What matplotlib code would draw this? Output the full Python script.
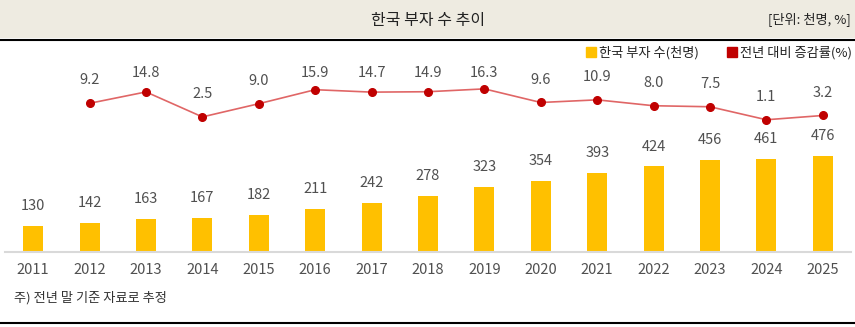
import matplotlib
matplotlib.use('Agg')
import matplotlib.pyplot as plt
from matplotlib.patches import Rectangle
from matplotlib.lines import Line2D

plt.rcParams['font.family'] = ['Noto Sans CJK KR', 'DejaVu Sans']

years = ['2011', '2012', '2013', '2014', '2015', '2016', '2017', '2018',
         '2019', '2020', '2021', '2022', '2023', '2024', '2025']
rich_count = [130, 142, 163, 167, 182, 211, 242, 278, 323, 354, 393, 424, 456, 461, 476]
# growth rate starts from 2012
growth_years = years[1:]
growth_rate = [9.2, 14.8, 2.5, 9.0, 15.9, 14.7, 14.9, 16.3, 9.6, 10.9, 8.0, 7.5, 1.1, 3.2]

W, H = 855, 327
fig = plt.figure(figsize=(W / 100, H / 100), dpi=100)

# header band
fig.patches.append(Rectangle((0, (H - 38) / H), 1, 38 / H, transform=fig.transFigure,
                             facecolor='#EEEBE1', edgecolor='none', zorder=0))
fig.add_artist(Line2D([0, 1], [(H - 39.5) / H] * 2, color='black', lw=1.5))
fig.add_artist(Line2D([0, 1], [(H - 323) / H] * 2, color='black', lw=1.5))
fig.text(428 / W, (H - 20) / H, '한국 부자 수 추이', ha='center', va='center', fontsize=11.5, color='#222222')
fig.text(851 / W, (H - 20) / H, '[단위: 천명, %]', ha='right', va='center', fontsize=9.5, color='#222222')
fig.text(14 / W, (H - 298) / H, '주) 전년 말 기준 자료로 추정', ha='left', va='center', fontsize=9.5, color='#333333')

ax = fig.add_axes([5 / W, (H - 252) / H, 846 / W, 207 / H])
x = list(range(len(years)))
ax.bar(x, rich_count, width=0.355, color='#FFC000', zorder=2)
ax.set_xlim(-0.5, 14.5)
ax.set_ylim(0, 207 / 0.2017)
for xi, v in zip(x, rich_count):
    ax.text(xi, v + 99, str(v), ha='center', va='center', fontsize=10.5, color='#505050', weight='light')

ax.set_xticks(x)
ax.set_xticklabels(years, fontsize=10.5, color='#505050', weight='light')
ax.tick_params(axis='x', length=0, pad=8)
ax.set_yticks([])
for s in ['top', 'left', 'right']:
    ax.spines[s].set_visible(False)
ax.spines['bottom'].set_color('#D9D9D9')
ax.spines['bottom'].set_linewidth(1.5)
ax.patch.set_alpha(0)

ax2 = ax.twinx()
gx = [years.index(y) for y in growth_years]
ax2.plot(gx, growth_rate, color='#E06666', lw=1.2, zorder=3)
ax2.plot(gx, growth_rate, 'o', color='#C00000', ms=5.5, zorder=4)
ax2.set_ylim(-64, 37.9)
ax2.set_yticks([])
for s in ['top', 'left', 'right', 'bottom']:
    ax2.spines[s].set_visible(False)
for xi, v in zip(gx, growth_rate):
    ax2.text(xi, min(v + 11.3, 24.1), f'{v:.1f}', ha='center', va='center',
             fontsize=10.5, color='#505050', weight='light')

# legend
handles = [Line2D([], [], marker='s', ls='none', color='#FFC000', ms=7),
           Line2D([], [], marker='s', ls='none', color='#C00000', ms=7)]
fig.legend(handles, ['한국 부자 수(천명)', '전년 대비 증감률(%)'], loc='center right',
           bbox_to_anchor=(852 / W, (H - 53) / H), ncol=2, frameon=False, fontsize=9.5,
           handletextpad=0.1, columnspacing=2.0, handlelength=1.0, borderpad=0,
           borderaxespad=0, labelcolor='#222222')

fig.savefig('out.png', dpi=100)
